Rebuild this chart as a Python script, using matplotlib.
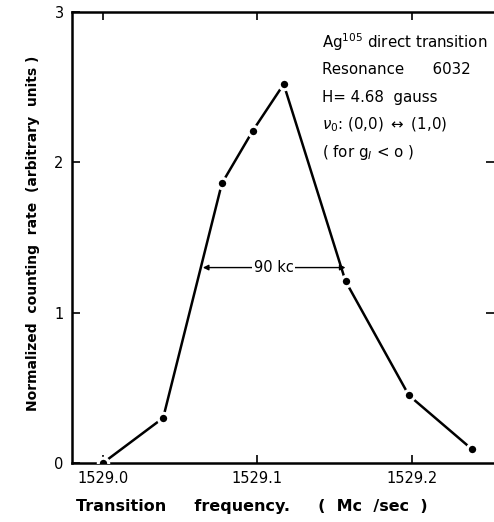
import matplotlib
matplotlib.use("Agg")
from matplotlib import pyplot as plt

# Ag105 direct transition, resonance 6032
freq = [1529.000, 1529.039, 1529.077, 1529.097, 1529.117, 1529.157, 1529.198, 1529.239]
rate = [0.00, 0.30, 1.86, 2.21, 2.52, 1.21, 0.45, 0.09]

xticks = [1529.0, 1529.1, 1529.2]
xticklabels = ["1529.0", "1529.1", "1529.2"]
yticks = [0, 1, 2, 3]

info_lines = [
    r"Ag$^{105}$ direct transition",
    "Resonance      6032",
    "H= 4.68  gauss",
    r"$\nu_0$: (0,0) $\leftrightarrow$ (1,0)",
    r"( for g$_I$ < o )",
]

fig = plt.figure(figsize=(4.94, 5.22), dpi=100)
ax = fig.add_axes([72 / 494, 59 / 522, 1 - 72 / 494, 451 / 522])

ax.plot(freq, rate, color="black", lw=1.8, marker="o", ms=7.5,
        mfc="black", mec="white", mew=2.2, zorder=3)

# width annotation
ax.annotate("", xy=(1529.0647, 1.30), xytext=(1529.157, 1.30),
            arrowprops=dict(arrowstyle="<|-|>", color="black", lw=1.0,
                            shrinkA=0, shrinkB=0, mutation_scale=8))
ax.text(1529.1105, 1.30, "90 kc", ha="center", va="center", fontsize=10.5,
        bbox=dict(facecolor="white", edgecolor="none", pad=1))

for i, line in enumerate(info_lines):
    ax.text(1529.1417, 2.80 - i * 0.183, line,
            ha="left", va="center", fontsize=10.8)

ax.set_xlim(1528.98, 1529.2531)
ax.set_ylim(0, 3)
ax.set_xticks(xticks)
ax.set_xticklabels(xticklabels)
ax.set_yticks(yticks)
ax.tick_params(axis="both", direction="in", length=6, width=1.2, labelsize=10.5,
               top=True, right=True, pad=6)
for t, v in zip(ax.yaxis.get_major_ticks(), yticks):
    if v in (0, 3):
        t.tick2line.set_visible(False)
for side in ["left", "bottom", "top"]:
    ax.spines[side].set_linewidth(1.8)
ax.spines["right"].set_visible(False)

ax.set_xlabel("Transition     frequency.     (  Mc  /sec  )", fontsize=11.5,
              fontweight="bold")
ax.xaxis.set_label_coords(0.427, -0.08)
ax.set_ylabel("Normalized  counting  rate  (arbitrary  units )", fontsize=10,
              fontweight="bold")
ax.yaxis.set_label_coords(-0.076, 0.51)

fig.savefig("out.png", dpi=100)
